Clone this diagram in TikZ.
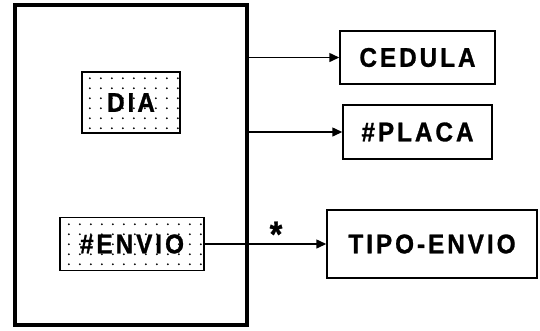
\documentclass[tikz,border=0pt]{standalone}
\usepackage{fontspec}
\newfontfamily\blockfont{Liberation Sans Bold}[FakeStretch=0.9,LetterSpace=11,FakeBold=1]
\usetikzlibrary{arrows.meta,patterns}
\pgfdeclarepatternformonly{spdots}{\pgfpointorigin}{\pgfqpoint{10.6pt}{10.4pt}}{\pgfqpoint{10.6pt}{10.4pt}}{\pgfpathcircle{\pgfqpoint{5pt}{5pt}}{1.1pt}\pgfusepath{fill}}
\begin{document}
\begin{tikzpicture}[x=1pt,y=-1pt,line join=miter,
  ent/.style={draw,line width=1.5pt,inner sep=0pt,font=\fontsize{27pt}{27pt}\blockfont},
  attr/.style={ent,pattern=spdots},
  lnk/.style={line width=1.5pt,-{Triangle[length=10pt,width=9pt]}}]
\useasboundingbox (0,0) rectangle (540,330);
\node[draw,line width=4pt,minimum width=232pt,minimum height=320pt] (frame) at (131,165) {};
\node[attr,minimum width=98pt,minimum height=61pt] (dia) at (131,102.5) {DIA};
\node[attr,minimum width=144pt,minimum height=53pt] (envio) at (132,244) {\#ENVIO};
\node[ent,minimum width=155pt,minimum height=53pt] (cedula) at (417.5,57.5) {CEDULA};
\node[ent,minimum width=149pt,minimum height=54pt] (placa) at (417.5,132) {\#PLACA};
\node[ent,minimum width=210pt,minimum height=68pt] (tipo) at (432,244) {TIPO-ENVIO};
\draw[lnk] (frame.east|-cedula) -- (cedula.west);
\draw[lnk] (frame.east|-placa) -- (placa.west);
\draw[lnk] (envio.east) -- (tipo.west);
\node[font=\fontsize{36pt}{36pt}\blockfont,anchor=base,inner sep=0pt] (star) at (276,246.5) {*};
\end{tikzpicture}
\end{document}
